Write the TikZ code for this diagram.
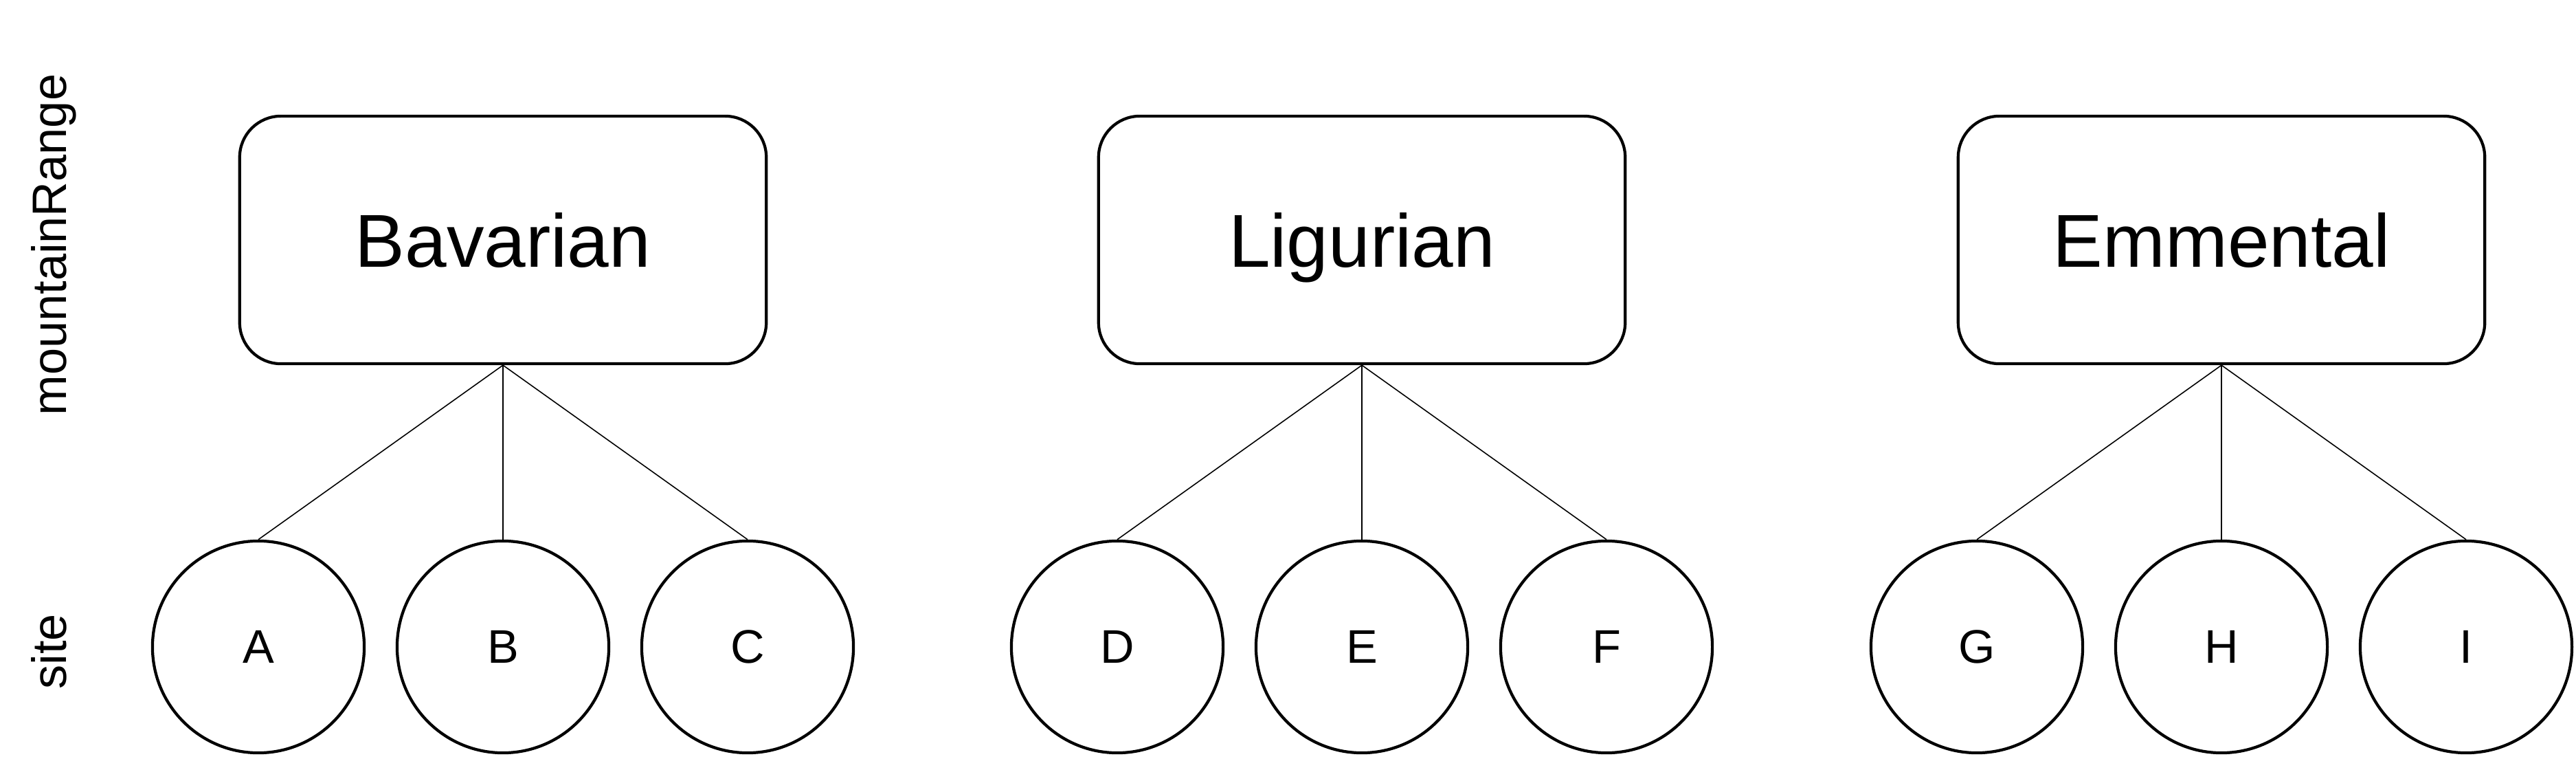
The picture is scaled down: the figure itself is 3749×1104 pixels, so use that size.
\documentclass[tikz,border=0pt]{standalone}
\usepackage{fontspec}
\setmainfont{Liberation Sans}
\begin{document}
\begin{tikzpicture}[x=0.01cm,y=-0.01cm,
  rangebox/.style={draw, line width=1.2pt, rounded corners=0.6cm, minimum width=7.66cm, minimum height=3.6cm, inner sep=0pt, text height=22.3pt, text depth=0pt, font=\fontsize{31}{36}\selectfont},
  sitenode/.style={draw, circle, line width=1.2pt, minimum size=3.08cm, inner sep=0pt, font=\fontsize{19.5}{23}\selectfont},
  link/.style={line width=0.45pt},
  levellabel/.style={rotate=90, anchor=base, font=\fontsize{20}{24}\selectfont}]
\useasboundingbox (0,0) rectangle (3749,1104);
\node[levellabel] (lvlR) at (97,356) {mountainRange};
\node[levellabel] (lvlS) at (97,948) {site};
\node[rangebox] (bav) at (732,349) {Bavarian};
\node[rangebox] (lig) at (1982,349) {Ligurian};
\node[rangebox] (emm) at (3233,349) {Emmental};
\node[sitenode] (A) at (376,941) {A};
\node[sitenode] (B) at (732,941) {B};
\node[sitenode] (C) at (1088,941) {C};
\node[sitenode] (D) at (1626,941) {D};
\node[sitenode] (E) at (1982,941) {E};
\node[sitenode] (F) at (2338,941) {F};
\node[sitenode] (G) at (2877,941) {G};
\node[sitenode] (H) at (3233,941) {H};
\node[sitenode] (I) at (3589,941) {I};
\foreach \p/\c in {bav/A,bav/B,bav/C,lig/D,lig/E,lig/F,emm/G,emm/H,emm/I}
  \draw[link] (\p.south) -- (\c.north);
\end{tikzpicture}
\end{document}
